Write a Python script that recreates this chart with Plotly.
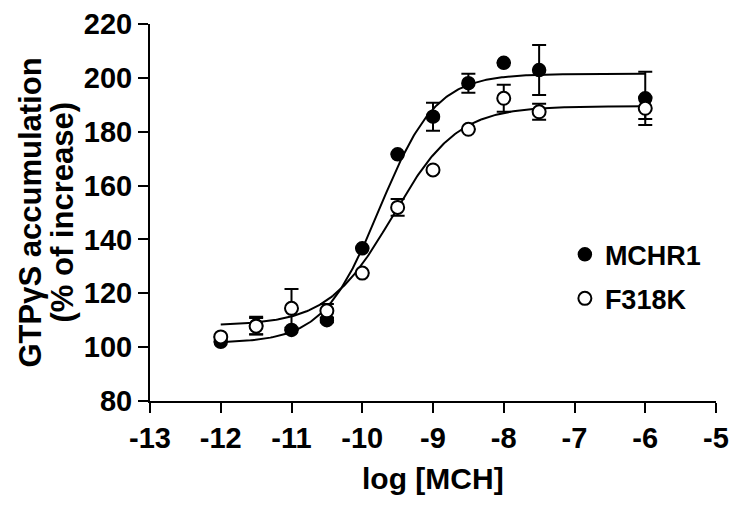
import numpy as np
import plotly.graph_objects as go

# ---- data ----
log_mch = [-12, -11.5, -11, -10.5, -10, -9.5, -9, -8.5, -8, -7.5, -6]

mchr1 = [102.0, 108.0, 106.4, 110.0, 136.7, 171.6, 185.6, 198.0, 205.6, 202.9, 192.4]
mchr1_err = [0, 3.3, 0, 0.8, 0, 0, 5.2, 3.5, 0, 9.3, 9.9]

f318k = [103.8, 107.8, 114.4, 113.5, 127.5, 151.9, 165.8, 180.9, 192.4, 187.4, 188.7]
f318k_err = [0, 3.0, 7.2, 2.5, 0, 3.1, 0, 0, 5.0, 3.0, 4.0]

# four-parameter logistic fit parameters (bottom, top, logEC50, hill)
mchr1_fit = [101.5, 201.5, -9.754, 1.09]
f318k_fit = [108.0, 189.5, -9.57, 0.95]
curve_range = [-12, -6]

x_ticks = [-13, -12, -11, -10, -9, -8, -7, -6, -5]
x_tick_labels = ["-13", "-12", "-11", "-10", "-9", "-8", "-7", "-6", "-5"]
y_ticks = [80, 100, 120, 140, 160, 180, 200, 220]

x_title = "log [MCH]"
y_title_lines = ["GTPγS accumulation", "(% of increase)"]

FONT = "Arial, 'Liberation Sans', sans-serif"


def logistic(x, p):
    bottom, top, ec50, hill = p
    return bottom + (top - bottom) / (1 + 10 ** ((ec50 - x) * hill))


xc = np.linspace(curve_range[0], curve_range[1], 300)

fig = go.Figure()

for fit in (mchr1_fit, f318k_fit):
    fig.add_trace(go.Scatter(
        x=xc, y=logistic(xc, fit), mode="lines",
        line=dict(color="black", width=2), showlegend=False, hoverinfo="skip"))

fig.add_trace(go.Scatter(
    x=log_mch, y=mchr1, mode="markers", name="MCHR1",
    marker=dict(symbol="circle", size=13, color="black",
                line=dict(color="black", width=1.5)),
    error_y=dict(type="data", array=mchr1_err, visible=True,
                 color="black", thickness=2, width=7),
    legendgroup="a"))

fig.add_trace(go.Scatter(
    x=log_mch, y=f318k, mode="markers", name="F318K",
    marker=dict(symbol="circle", size=13, color="white",
                line=dict(color="black", width=2)),
    error_y=dict(type="data", array=f318k_err, visible=True,
                 color="black", thickness=2, width=7),
    legendgroup="b"))

axis_common = dict(
    showgrid=False, zeroline=False, showline=True, linecolor="black",
    linewidth=2, ticks="outside", ticklen=10, tickwidth=2, tickcolor="black",
    automargin=False,
    tickfont=dict(family=FONT, size=29, color="black", weight="bold"),
)

annotations = [
    dict(text=x_title, xref="paper", yref="paper", x=0.5, y=0,
         xanchor="center", yanchor="middle", yshift=-77, showarrow=False,
         font=dict(family=FONT, size=30, color="black", weight="bold")),
]
for i, line in enumerate(y_title_lines):
    annotations.append(dict(
        text=line, xref="paper", yref="paper", x=0, y=0.5,
        xanchor="center", yanchor="middle", xshift=-120 + 32 * i,
        textangle=-90, showarrow=False,
        font=dict(family=FONT, size=31, color="black", weight="bold")))

fig.update_layout(
    width=756, height=509,
    margin=dict(l=150, r=40, t=24, b=108),
    paper_bgcolor="white", plot_bgcolor="white",
    xaxis=dict(range=[-13, -5], tickvals=x_ticks, ticktext=x_tick_labels,
               **axis_common),
    yaxis=dict(range=[80, 220], tickvals=y_ticks, **axis_common),
    annotations=annotations,
    legend=dict(x=0.733, y=0.453, xanchor="left", yanchor="top",
                bgcolor="rgba(0,0,0,0)", traceorder="grouped", tracegroupgap=6,
                font=dict(family=FONT, size=27, color="black", weight="bold")),
)

fig.write_html("out.html",
               config={"displayModeBar": False},
               post_script="document.body.style.margin='0';document.body.style.overflow='hidden';")
